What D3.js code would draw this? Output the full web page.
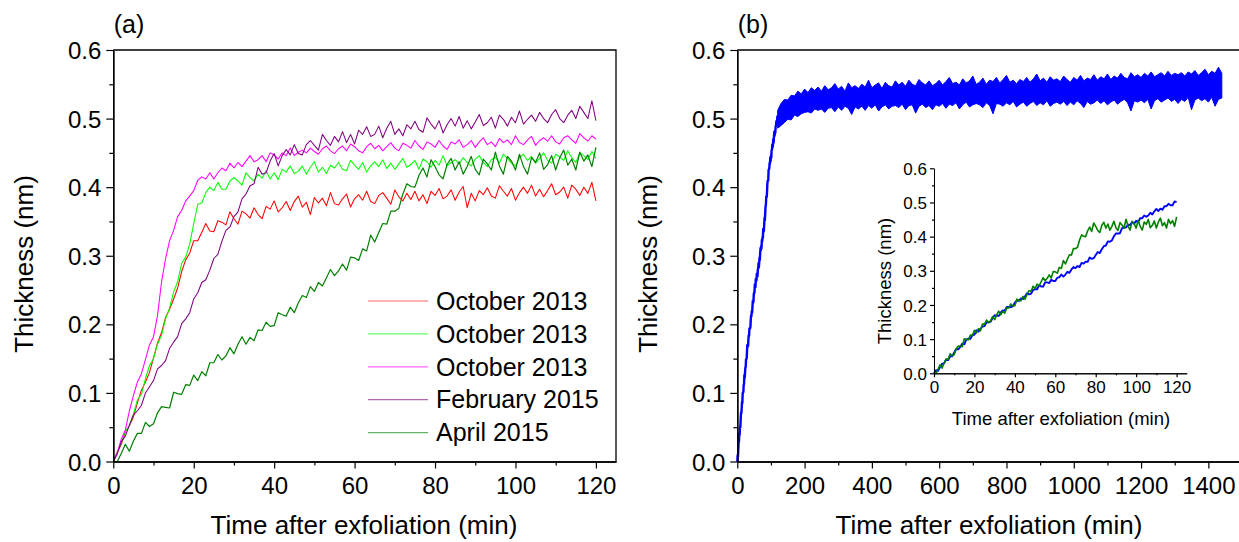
<!DOCTYPE html>
<html>
<head>
<meta charset="utf-8">
<script src="https://cdn.jsdelivr.net/npm/d3@7"></script>
<style>
  body { margin: 0; background: #fff; }
  svg { display: block; font-family: "Liberation Sans", Arial, sans-serif; }
  .domain { stroke: #000; stroke-width: 1.3px; }
  .tick line { stroke: #000; stroke-width: 1.2px; }
  .trace { fill: none; stroke-linejoin: round; }
</style>
</head>
<body>
<svg id="chart" width="1239" height="542"></svg>
<script>
// sampling grid of the 2 h runs (one reading per minute)
const minutes = d3.range(0, 121);

const oct2013a = [0.000,0.014,0.025,0.043,0.052,0.065,0.086,0.104,0.116,0.130,
  0.151,0.173,0.188,0.210,0.222,0.237,0.253,0.277,0.294,0.304,
  0.322,0.322,0.334,0.347,0.336,0.335,0.351,0.349,0.345,0.364,
  0.354,0.346,0.365,0.361,0.355,0.370,0.360,0.354,0.372,0.368,
  0.380,0.364,0.370,0.379,0.366,0.379,0.387,0.371,0.378,0.360,
  0.385,0.377,0.384,0.373,0.392,0.376,0.374,0.383,0.390,0.371,
  0.383,0.389,0.381,0.394,0.379,0.376,0.388,0.392,0.384,0.375,
  0.396,0.386,0.380,0.391,0.382,0.394,0.380,0.389,0.376,0.394,
  0.388,0.398,0.383,0.387,0.396,0.381,0.393,0.401,0.370,0.391,
  0.380,0.395,0.389,0.399,0.387,0.384,0.402,0.394,0.387,0.398,
  0.381,0.392,0.400,0.391,0.403,0.387,0.397,0.386,0.395,0.405,
  0.389,0.393,0.400,0.384,0.403,0.397,0.388,0.400,0.391,0.407,0.380];

const oct2013b = [0.000,0.014,0.027,0.044,0.052,0.069,0.090,0.098,0.121,0.140,
  0.150,0.171,0.184,0.208,0.224,0.247,0.262,0.289,0.298,0.317,
  0.347,0.375,0.377,0.392,0.400,0.395,0.407,0.397,0.397,0.409,
  0.414,0.409,0.403,0.421,0.414,0.409,0.419,0.413,0.424,0.412,
  0.421,0.411,0.426,0.422,0.431,0.420,0.423,0.431,0.419,0.429,
  0.437,0.422,0.429,0.420,0.432,0.428,0.436,0.426,0.424,0.439,
  0.432,0.426,0.436,0.422,0.431,0.437,0.430,0.440,0.427,0.435,
  0.426,0.434,0.442,0.429,0.433,0.439,0.426,0.441,0.437,0.429,
  0.439,0.432,0.446,0.431,0.436,0.440,0.434,0.443,0.436,0.431,
  0.441,0.446,0.436,0.430,0.440,0.444,0.435,0.448,0.442,0.435,
  0.431,0.443,0.448,0.439,0.445,0.435,0.442,0.450,0.439,0.435,
  0.448,0.444,0.439,0.453,0.443,0.436,0.450,0.446,0.440,0.452,0.442];

const oct2013c = [0.000,0.013,0.033,0.046,0.074,0.096,0.116,0.128,0.149,0.170,
  0.182,0.213,0.262,0.296,0.322,0.337,0.357,0.366,0.380,0.387,
  0.395,0.410,0.415,0.412,0.421,0.412,0.421,0.428,0.424,0.435,
  0.428,0.436,0.430,0.438,0.446,0.437,0.440,0.446,0.437,0.450,
  0.447,0.441,0.450,0.446,0.457,0.446,0.451,0.454,0.450,0.457,
  0.452,0.448,0.456,0.460,0.453,0.449,0.456,0.460,0.453,0.463,
  0.459,0.453,0.450,0.459,0.464,0.456,0.461,0.453,0.459,0.465,
  0.457,0.453,0.464,0.461,0.457,0.468,0.460,0.455,0.466,0.463,
  0.458,0.468,0.460,0.455,0.466,0.463,0.469,0.458,0.462,0.468,
  0.458,0.466,0.472,0.462,0.466,0.459,0.471,0.465,0.469,0.462,
  0.475,0.465,0.462,0.469,0.474,0.461,0.468,0.472,0.467,0.475,
  0.466,0.463,0.472,0.475,0.469,0.464,0.478,0.472,0.467,0.475,0.470];

const feb2015 = [0.000,0.011,0.029,0.037,0.053,0.068,0.074,0.082,0.100,0.109,
  0.118,0.135,0.140,0.147,0.165,0.174,0.182,0.201,0.208,0.217,
  0.237,0.246,0.261,0.265,0.279,0.296,0.302,0.321,0.337,0.342,
  0.357,0.364,0.383,0.390,0.402,0.405,0.429,0.419,0.421,0.438,
  0.449,0.431,0.446,0.455,0.447,0.462,0.449,0.447,0.462,0.468,
  0.461,0.454,0.477,0.468,0.461,0.474,0.466,0.481,0.465,0.477,
  0.463,0.483,0.477,0.488,0.474,0.477,0.489,0.472,0.486,0.496,
  0.477,0.485,0.475,0.491,0.485,0.496,0.484,0.480,0.501,0.492,
  0.485,0.497,0.479,0.491,0.500,0.489,0.503,0.486,0.497,0.485,
  0.495,0.506,0.490,0.494,0.502,0.486,0.505,0.499,0.489,0.502,
  0.494,0.511,0.492,0.499,0.505,0.496,0.509,0.500,0.494,0.506,
  0.513,0.500,0.494,0.505,0.512,0.500,0.518,0.509,0.500,0.526,0.497];

const apr2015 = [0.000,0.000,0.012,0.025,0.015,0.030,0.041,0.041,0.057,0.051,
  0.055,0.071,0.080,0.079,0.078,0.101,0.099,0.098,0.112,0.111,
  0.126,0.118,0.131,0.125,0.144,0.144,0.156,0.148,0.154,0.166,
  0.157,0.171,0.182,0.171,0.181,0.176,0.192,0.191,0.203,0.197,
  0.198,0.217,0.214,0.212,0.225,0.217,0.231,0.242,0.239,0.255,
  0.248,0.261,0.256,0.268,0.280,0.271,0.278,0.288,0.279,0.298,
  0.297,0.293,0.310,0.307,0.330,0.320,0.334,0.347,0.346,0.365,
  0.365,0.369,0.390,0.405,0.401,0.400,0.417,0.428,0.415,0.440,
  0.430,0.418,0.412,0.433,0.442,0.425,0.437,0.419,0.430,0.445,
  0.426,0.418,0.441,0.434,0.425,0.451,0.431,0.419,0.445,0.438,
  0.425,0.448,0.430,0.419,0.443,0.436,0.450,0.426,0.433,0.446,
  0.425,0.443,0.454,0.432,0.441,0.425,0.451,0.438,0.447,0.430,0.458];

// first 2 h of the long run (blue), also shown in the inset
const longRun2h = [0.000,0.009,0.007,0.018,0.028,0.029,0.041,0.039,0.050,0.050,
  0.061,0.071,0.070,0.077,0.087,0.085,0.099,0.101,0.101,0.112,
  0.113,0.126,0.122,0.130,0.137,0.138,0.149,0.149,0.151,0.162,
  0.170,0.168,0.168,0.178,0.184,0.183,0.194,0.194,0.194,0.196,
  0.207,0.213,0.212,0.219,0.217,0.225,0.234,0.231,0.233,0.244,
  0.246,0.246,0.258,0.254,0.254,0.266,0.266,0.264,0.274,0.270,
  0.270,0.280,0.281,0.289,0.283,0.289,0.297,0.294,0.304,0.311,
  0.308,0.314,0.311,0.323,0.321,0.327,0.326,0.339,0.335,0.337,
  0.346,0.355,0.352,0.363,0.372,0.374,0.386,0.385,0.389,0.401,
  0.409,0.409,0.410,0.425,0.426,0.427,0.435,0.434,0.443,0.438,
  0.446,0.443,0.454,0.454,0.462,0.458,0.462,0.470,0.465,0.474,
  0.481,0.475,0.482,0.479,0.489,0.489,0.496,0.492,0.492,0.503,0.501];

// rest of the 24 h run: spread of the readings in each 10 min window
const longRunMinutes = d3.range(120, 1441, 10);
const longRunTop = [
  0.512,0.522,0.528,0.527,0.534,0.533,0.540,0.536,0.543,0.538,0.545,0.541,
  0.546,0.540,0.548,0.542,0.545,0.551,0.543,0.547,0.540,0.552,0.545,0.548,
  0.544,0.550,0.546,0.556,0.545,0.549,0.552,0.544,0.553,0.548,0.546,0.555,
  0.549,0.553,0.547,0.556,0.550,0.548,0.557,0.552,0.549,0.555,0.548,0.551,
  0.556,0.549,0.554,0.560,0.551,0.553,0.549,0.558,0.552,0.555,0.562,0.550,
  0.553,0.559,0.550,0.556,0.554,0.560,0.552,0.557,0.563,0.553,0.556,0.551,
  0.557,0.554,0.560,0.553,0.558,0.565,0.555,0.559,0.553,0.561,0.556,0.558,
  0.554,0.562,0.557,0.553,0.560,0.556,0.563,0.555,0.559,0.557,0.564,0.556,
  0.561,0.558,0.565,0.557,0.562,0.559,0.566,0.560,0.558,0.567,0.561,0.564,
  0.560,0.566,0.562,0.568,0.561,0.564,0.567,0.562,0.569,0.563,0.566,0.564,
  0.567,0.562,0.568,0.565,0.570,0.563,0.567,0.572,0.564,0.569,0.566,0.575,0.566];
const longRunBottom = [
  0.486,0.490,0.494,0.499,0.498,0.505,0.503,0.507,0.509,0.510,0.508,0.514,
  0.512,0.514,0.509,0.515,0.516,0.510,0.517,0.512,0.518,0.515,0.506,0.517,
  0.514,0.518,0.512,0.519,0.515,0.520,0.511,0.517,0.520,0.514,0.518,0.519,
  0.516,0.521,0.513,0.519,0.520,0.508,0.518,0.521,0.516,0.519,0.513,0.520,
  0.518,0.522,0.515,0.521,0.519,0.523,0.514,0.520,0.524,0.517,0.520,0.522,
  0.520,0.516,0.523,0.519,0.507,0.522,0.521,0.518,0.523,0.520,0.525,0.517,
  0.521,0.524,0.518,0.522,0.525,0.519,0.523,0.520,0.526,0.518,0.522,0.524,
  0.521,0.525,0.519,0.524,0.520,0.526,0.522,0.516,0.525,0.521,0.523,0.527,
  0.522,0.526,0.520,0.524,0.527,0.521,0.525,0.528,0.523,0.511,0.526,0.524,
  0.527,0.523,0.528,0.514,0.526,0.529,0.524,0.527,0.530,0.525,0.528,0.522,
  0.528,0.525,0.531,0.513,0.527,0.530,0.526,0.529,0.524,0.531,0.518,0.528,0.530];

const legendLabels = ['October 2013', 'October 2013', 'October 2013', 'February 2015', 'April 2015'];
const seriesA = [oct2013a, oct2013b, oct2013c, feb2015, apr2015];
const colorsA = ['#ff0000', '#00ff00', '#ff00ff', '#800080', '#008000'];

const thicknessTicks = [0, 0.1, 0.2, 0.3, 0.4, 0.5, 0.6];
const thicknessMinor = [0.05, 0.15, 0.25, 0.35, 0.45, 0.55];
const shortTicks = [0, 20, 40, 60, 80, 100, 120];
const shortMinor = [10, 30, 50, 70, 90, 110];
const longTicks = [0, 200, 400, 600, 800, 1000, 1200, 1400];
const longMinor = [100, 300, 500, 700, 900, 1100, 1300];


const svg = d3.select('#chart');
const font = '"Liberation Sans", Arial, sans-serif';

function drawAxes(g, x, y, o) {
  const y0 = y.range()[0], x0 = x.range()[0];

  g.append('g').attr('transform', `translate(0,${y0})`)
    .call(d3.axisBottom(x).tickValues(o.xMinor).tickSize(o.minor).tickFormat('').tickSizeOuter(0));
  g.append('g').attr('transform', `translate(0,${y0})`)
    .call(d3.axisBottom(x).tickValues(o.xTicks).tickSize(o.major).tickPadding(o.xPad)
      .tickFormat(d3.format('d')).tickSizeOuter(0))
    .attr('font-size', o.fontSize).attr('font-family', font);

  g.append('g').attr('transform', `translate(${x0},0)`)
    .call(d3.axisLeft(y).tickValues(thicknessMinor).tickSize(o.minor).tickFormat('').tickSizeOuter(0));
  g.append('g').attr('transform', `translate(${x0},0)`)
    .call(d3.axisLeft(y).tickValues(thicknessTicks).tickSize(o.major).tickPadding(o.yPad)
      .tickFormat(d3.format('.1f')).tickSizeOuter(0))
    .attr('font-size', o.fontSize).attr('font-family', font)
    .selectAll('text').attr('dy', '0.36em');
}

function frame(g, x, y) {
  const [xl, xr] = x.range(), [yb, yt] = y.range();
  g.append('path')
    .attr('d', `M${xl},${yt}H${xr}V${yb}`)
    .attr('fill', 'none').attr('stroke', '#000').attr('stroke-width', 1.3);
}

function title(g, txt, x, y, size, rotate) {
  g.append('text')
    .attr('transform', `translate(${x},${y})` + (rotate ? ' rotate(-90)' : ''))
    .attr('text-anchor', 'middle')
    .style('font-size', size + 'px')
    .text(txt);
}

// ---------- panel (a)
const xa = d3.scaleLinear().domain([0, 125]).range([113.3, 616]);
const ya = d3.scaleLinear().domain([0, 0.6]).range([461.5, 50]);
const ga = svg.append('g');

const lineA = d3.line().x((d, i) => xa(minutes[i])).y(d => ya(d));

seriesA.forEach((s, k) => {
  ga.append('path').datum(s).attr('class', 'trace')
    .attr('d', lineA)
    .attr('stroke', colorsA[k])
    .attr('stroke-width', k == 4 ? 1.2 : 1.05);
});

frame(ga, xa, ya);
drawAxes(ga, xa, ya, { xTicks: shortTicks, xMinor: shortMinor, major: 7, minor: 4, xPad: 8, yPad: 5, fontSize: 24 });

const legend = ga.append('g').attr('transform', 'translate(368,301)');
legend.selectAll('g')
  .data(legendLabels)
  .enter()
  .append('g')
  .attr('transform', (d, i) => `translate(0,${i * 32.9})`)
  .each(function (d, i) {
    d3.select(this).append('line')
      .attr('x1', 0).attr('x2', 60)
      .attr('stroke', colorsA[i]).attr('stroke-opacity', 0.6).attr('stroke-width', 1.2);
    d3.select(this).append('text')
      .attr('x', 68).attr('dy', '0.35em')
      .style('font-size', '25px')
      .text(d);
  });

title(ga, '(a)', 129, 33, 25);
title(ga, 'Time after exfoliation (min)', 364, 534, 26);
title(ga, 'Thickness (nm)', 33, 264, 26, true);

// ---------- panel (b)
const xb = d3.scaleLinear().domain([0, 1500]).range([737.3, 1242]);
const yb = d3.scaleLinear().domain([0, 0.6]).range([461.5, 50]);
const gb = svg.append('g');

gb.append('path').datum(longRun2h).attr('class', 'trace')
  .attr('d', d3.line().x((d, i) => xb(minutes[i])).y(d => yb(d)))
  .attr('stroke', '#0000ff').attr('stroke-width', 2.4);

gb.append('path').datum(longRunMinutes)
  .attr('d', d3.area()
    .x(d => xb(d))
    .y0((d, i) => yb(longRunBottom[i]))
    .y1((d, i) => yb(longRunTop[i])))
  .attr('fill', '#0000ff')
  .attr('stroke', '#0000ff').attr('stroke-width', 1).attr('stroke-linejoin', 'miter');

frame(gb, xb, yb);
drawAxes(gb, xb, yb, { xTicks: longTicks, xMinor: longMinor, major: 7, minor: 4, xPad: 8, yPad: 5, fontSize: 24 });

title(gb, '(b)', 753, 33, 25);
title(gb, 'Time after exfoliation (min)', 989, 534, 26);
title(gb, 'Thickness (nm)', 657, 264, 26, true);

// inset
const xi = d3.scaleLinear().domain([0, 125]).range([934, 1186.7]);
const yi = d3.scaleLinear().domain([0, 0.6]).range([373.3, 168.3]);
const gi = gb.append('g');
const lineI = d3.line().x((d, i) => xi(minutes[i])).y(d => yi(d));

gi.append('path').datum(longRun2h).attr('class', 'trace')
  .attr('d', lineI).attr('stroke', '#0000ff').attr('stroke-width', 1.9);
gi.append('path').datum(apr2015).attr('class', 'trace')
  .attr('d', lineI).attr('stroke', '#008000').attr('stroke-width', 1.6);

drawAxes(gi, xi, yi, { xTicks: shortTicks, xMinor: shortMinor, major: 4, minor: 2, xPad: 4, yPad: 3, fontSize: 17 });
gi.selectAll('.domain').style('stroke-width', '1px');

title(gi, 'Time after exfoliation (min)', 1061, 425, 18.5);
title(gi, 'Thickness (nm)', 891, 281, 18.5, true);
</script>
</body>
</html>
